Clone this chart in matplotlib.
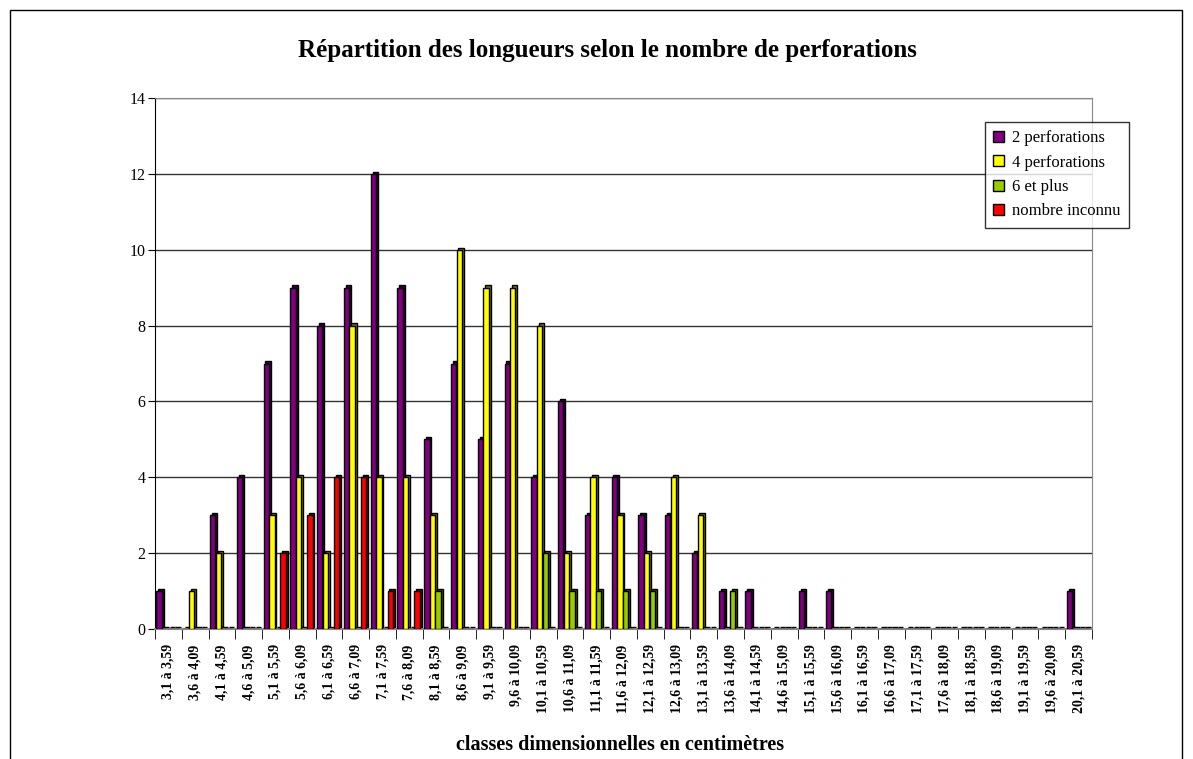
import matplotlib
matplotlib.use("Agg")
import matplotlib.pyplot as plt
from matplotlib.patches import Patch, Rectangle
import numpy as np

plt.rcParams['font.family'] = ['Liberation Serif', 'DejaVu Serif']

# length classes (cm)
classes = ['3,1 à 3,59', '3,6 à 4,09', '4,1 à 4,59', '4,6 à 5,09', '5,1 à 5,59',
           '5,6 à 6,09', '6,1 à 6,59', '6,6 à 7,09', '7,1 à 7,59', '7,6 à 8,09',
           '8,1 à 8,59', '8,6 à 9,09', '9,1 à 9,59', '9,6 à 10,09', '10,1 à 10,59',
           '10,6 à 11,09', '11,1 à 11,59', '11,6 à 12,09', '12,1 à 12,59', '12,6 à 13,09',
           '13,1 à 13,59', '13,6 à 14,09', '14,1 à 14,59', '14,6 à 15,09', '15,1 à 15,59',
           '15,6 à 16,09', '16,1 à 16,59', '16,6 à 17,09', '17,1 à 17,59', '17,6 à 18,09',
           '18,1 à 18,59', '18,6 à 19,09', '19,1 à 19,59', '19,6 à 20,09', '20,1 à 20,59']

perf2 = [1, 0, 3, 4, 7, 9, 8, 9, 12, 9, 5, 7, 5, 7, 4, 6, 3, 4, 3, 3, 2, 1, 1, 0, 1, 1,
         0, 0, 0, 0, 0, 0, 0, 0, 1]
perf4 = [0, 1, 2, 0, 3, 4, 2, 8, 4, 4, 3, 10, 9, 9, 8, 2, 4, 3, 2, 4, 3, 0, 0, 0, 0, 0,
         0, 0, 0, 0, 0, 0, 0, 0, 0]
perf6 = [0, 0, 0, 0, 0, 0, 0, 0, 0, 0, 1, 0, 0, 0, 2, 1, 1, 1, 1, 0, 0, 1, 0, 0, 0, 0,
         0, 0, 0, 0, 0, 0, 0, 0, 0]
unknown = [0, 0, 0, 0, 2, 3, 4, 4, 1, 1, 0, 0, 0, 0, 0, 0, 0, 0, 0, 0, 0, 0, 0, 0, 0, 0,
           0, 0, 0, 0, 0, 0, 0, 0, 0]

series = [perf2, perf4, perf6, unknown]
names = ['2 perforations', '4 perforations', '6 et plus', 'nombre inconnu']
colors = ['#800080', '#ffff00', '#99cc00', '#ff0000']
sides = ['#3a003a', '#6e6e00', '#3f5500', '#700000']

W, H = 1193, 759
fig = plt.figure(figsize=(W / 100, H / 100), dpi=100)

# outer chart frame
fig.patches.append(Rectangle((10 / W, -0.05), 1172 / W, 1.05 - 10 / H,
                             transform=fig.transFigure, fill=False,
                             edgecolor='black', linewidth=1))

left, right, top, bottom = 155, 1092, 98, 629
ax = fig.add_axes([left / W, 1 - bottom / H, (right - left) / W, (bottom - top) / H])

n = len(classes)
x = np.arange(n)
bw = 0.2
ymax = 14
dx = 0.07
dy = 2.2 * ymax / (bottom - top)

for j, vals in enumerate(series):
    pos = x + 0.5 + (j - 1.5) * 0.21 - 0.03
    # depth of the bars
    ax.bar(pos + dx, vals, bw, bottom=dy, color=sides[j], edgecolor='black',
           linewidth=1.0, zorder=2)
    ax.bar(pos, vals, bw, color=colors[j], edgecolor='black', linewidth=1.0, zorder=3)

ax.set_xlim(0, n)
ax.set_ylim(0, ymax)
ax.set_yticks(np.arange(0, ymax + 1, 2))
ax.yaxis.grid(True, color='#333333', linewidth=1.0)
ax.set_axisbelow(True)

ax.set_xticks(np.arange(n + 1), minor=True)
ax.set_xticks(x + 0.5)
ax.set_xticklabels(classes, rotation=90, fontsize=10, fontweight='bold', va='top')
ax.tick_params(axis='x', which='major', length=0, pad=11)
ax.tick_params(axis='x', which='minor', length=7, color='black', direction='out')
ax.tick_params(axis='y', length=5, color='black', direction='out', labelsize=11.5, pad=2)

for s in ['top', 'right']:
    ax.spines[s].set_color('#888888')
ax.spines['bottom'].set_color('#888888')
ax.spines['bottom'].set_linewidth(1.5)
ax.spines['left'].set_color('black')

fig.text(607 / W, 1 - 51 / H, 'Répartition des longueurs selon le nombre de perforations',
         ha='center', va='center', fontsize=18, fontweight='bold')
fig.text(620 / W, 1 - 745 / H, 'classes dimensionnelles en centimètres',
         ha='center', va='center', fontsize=14.5, fontweight='bold')

handles = [Patch(facecolor=c, edgecolor='black', linewidth=1) for c in colors]
leg = fig.legend(handles, names, loc='upper left',
                 bbox_to_anchor=(985 / W, 1 - 122 / H), fontsize=12,
                 frameon=True, fancybox=False, edgecolor='black',
                 handlelength=0.65, handleheight=0.65, handletextpad=0.5,
                 borderpad=0.5, labelspacing=0.5, borderaxespad=0)
leg.get_frame().set_linewidth(1)

fig.savefig('out.png', dpi=100)
